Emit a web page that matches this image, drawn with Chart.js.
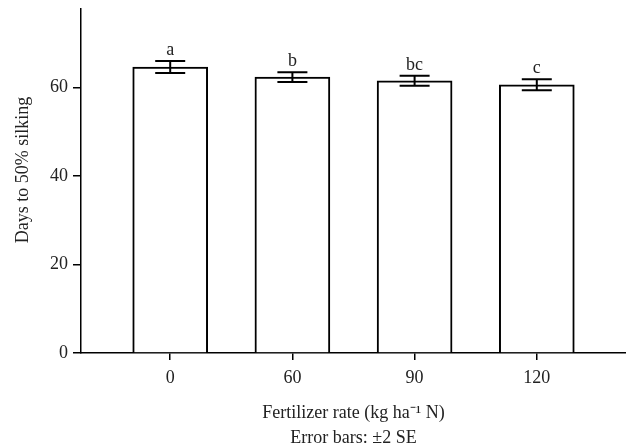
<!DOCTYPE html>
<html lang="en">
<head>
<meta charset="utf-8">
<title>Days to 50% silking</title>
<script src="https://cdn.jsdelivr.net/npm/chart.js@4.4.1/dist/chart.umd.min.js"></script>
<style>
    html, body { margin: 0; padding: 0; background: #fff; }
    #wrap { width: 626px; height: 448px; }
</style>
</head>
<body>
<div id="wrap"><canvas id="chart-silking"></canvas></div>
<script>
const DOSES = ['0', '60', '90', '120'];
const DIAS = [64.6, 62.3, 61.5, 60.6];
const ERRO_2SE = [1.35, 1.1, 1.15, 1.25];
const LETRAS = ['a', 'b', 'bc', 'c'];
const TICKS_Y = [0, 20, 40, 60];
const TITULO_Y = 'Days to 50% silking';
const TITULO_X = ['Fertilizer rate (kg ha\u207B\u00B9 N)', 'Error bars: \u00B12 SE'];

(function () {
    const FONTE = "'Liberation Serif', 'Times New Roman', serif";
    const COR_TEXTO = '#222';

    // barras de erro + letras de significância + título do eixo y
    const pluginErros = {
        id: 'barrasErro',
        afterDatasetsDraw(chart) {
            const { ctx, scales: { x, y } } = chart;
            ctx.save();
            ctx.strokeStyle = '#000';
            ctx.lineWidth = 2;
            ctx.fillStyle = COR_TEXTO;
            ctx.font = '18px ' + FONTE;
            ctx.textAlign = 'center';
            ctx.textBaseline = 'alphabetic';
            DIAS.forEach((v, i) => {
                const px = x.getPixelForValue(i);
                const yTop = y.getPixelForValue(v + ERRO_2SE[i]);
                const yBot = y.getPixelForValue(v - ERRO_2SE[i]);
                ctx.beginPath();
                ctx.moveTo(px, yTop); ctx.lineTo(px, yBot);
                ctx.moveTo(px - 15, yTop); ctx.lineTo(px + 15, yTop);
                ctx.moveTo(px - 15, yBot); ctx.lineTo(px + 15, yBot);
                ctx.stroke();
                ctx.fillText(LETRAS[i], px, yTop - 6);
            });
            ctx.translate(23, 170);
            ctx.rotate(-Math.PI / 2);
            ctx.textBaseline = 'middle';
            ctx.fillText(TITULO_Y, 0, 0);
            ctx.restore();
        }
    };

    function init() {
        new Chart(document.getElementById('chart-silking'), {
            type: 'bar',
            data: {
                datasets: [{
                    data: DIAS.map((v, i) => ({ x: i, y: v })),
                    backgroundColor: '#fff',
                    borderColor: '#000',
                    borderWidth: 2,
                    barThickness: 75
                }]
            },
            options: {
                responsive: true,
                maintainAspectRatio: false,
                animation: false,
                layout: { padding: { top: 9, right: 0, bottom: 0, left: 0 } },
                plugins: { legend: { display: false }, tooltip: { enabled: false } },
                scales: {
                    x: {
                        type: 'linear',
                        offset: false,
                        min: -0.73,
                        max: 3.73,
                        afterBuildTicks: s => { s.ticks = DOSES.map((_, i) => ({ value: i })); },
                        afterFit: s => { s.height = 95; s.paddingLeft = 0; s.paddingRight = 0; },
                        grid: { offset: false, drawOnChartArea: false, drawTicks: true, tickLength: 7, color: '#000', lineWidth: 1.5 },
                        border: { color: '#000', width: 1.5 },
                        ticks: {
                            callback: v => DOSES[v],
                            color: COR_TEXTO,
                            padding: 7,
                            maxRotation: 0,
                            font: { family: FONTE, size: 18 }
                        },
                        title: {
                            display: true,
                            text: TITULO_X,
                            color: COR_TEXTO,
                            padding: { top: 0, bottom: -3 },
                            font: { family: FONTE, size: 18, lineHeight: 1.39 }
                        }
                    },
                    y: {
                        min: 0,
                        max: 77.7,
                        afterBuildTicks: s => { s.ticks = TICKS_Y.map(v => ({ value: v })); },
                        afterFit: s => { s.width = 81; s.paddingTop = 0; s.paddingBottom = 0; },
                        grid: { drawOnChartArea: false, drawTicks: true, tickLength: 8, color: '#000', lineWidth: 1.5 },
                        border: { color: '#000', width: 1.5 },
                        ticks: {
                            color: COR_TEXTO,
                            padding: 5,
                            font: { family: FONTE, size: 18 }
                        }
                    }
                }
            },
            plugins: [pluginErros]
        });
    }

    init();
})();
</script>
</body>
</html>
